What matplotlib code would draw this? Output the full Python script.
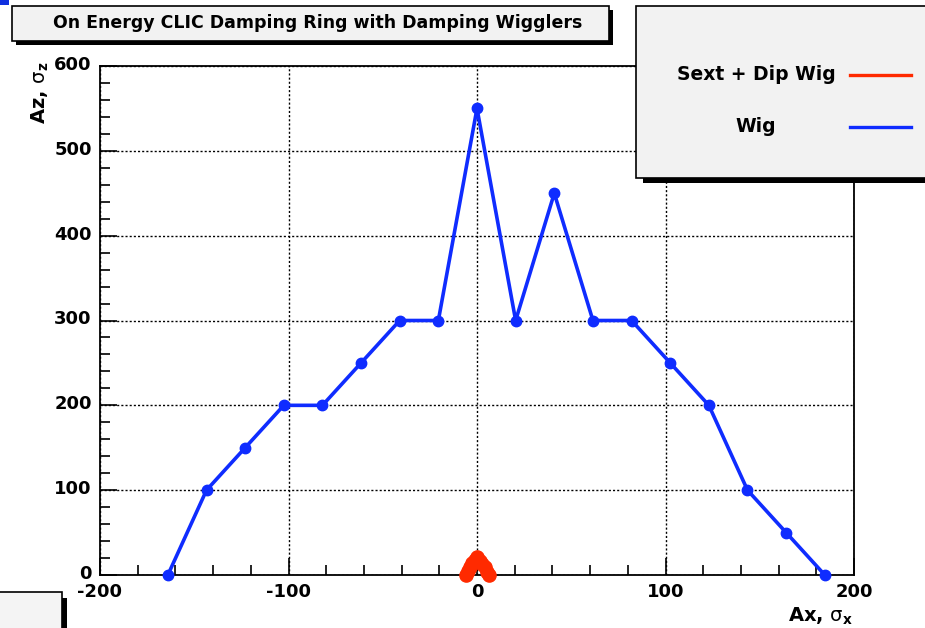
import matplotlib
matplotlib.use("Agg")
import matplotlib.pyplot as plt
from matplotlib.patches import Rectangle
from matplotlib.lines import Line2D
from matplotlib.ticker import MultipleLocator
from matplotlib.transforms import ScaledTranslation

# Dynamic aperture scan: amplitudes in units of beam sigma
wig_ax = [-164, -143.5, -123, -102.5, -82, -61.5, -41, -20.5, 0, 20.5, 41,
          61.5, 82, 102.5, 123, 143.5, 164, 184.5]
wig_az = [0, 100, 150, 200, 200, 250, 300, 300, 550, 300, 450,
          300, 300, 250, 200, 100, 50, 0]

sext_ax = [-5.8, -4.8, -3.8, -2.6, -1.3, 0, 1.4, 2.8, 4.0, 5.3, 6.5]
sext_az = [0, 5, 10, 14, 18, 21, 17, 13, 9, 4, 0]

title = "On Energy CLIC Damping Ring with Damping Wigglers"
series_labels = ["Sext + Dip Wig", "Wig"]
x_ticks = [-200, -100, 0, 100, 200]
y_ticks = [0, 100, 200, 300, 400, 500, 600]

W, H = 925, 628
RED = "#ff2a00"
BLUE = "#0f2cff"
PANEL = "#f2f2f2"

fig = plt.figure(figsize=(W / 100, H / 100), dpi=100)
fig.patch.set_facecolor("white")


def fx(x):
    return x / W


def fy(y):
    return 1 - y / H


def box(x0, y0, x1, y1, face, lw=1.2, z=5):
    r = Rectangle((fx(x0), fy(y1)), fx(x1) - fx(x0), fy(y0) - fy(y1),
                  transform=fig.transFigure, facecolor=face, edgecolor="black",
                  linewidth=lw, zorder=z)
    fig.add_artist(r)


def shadow(x0, y0, x1, y1, z=4):
    r = Rectangle((fx(x0), fy(y1)), fx(x1) - fx(x0), fy(y0) - fy(y1),
                  transform=fig.transFigure, facecolor="black",
                  edgecolor="none", zorder=z)
    fig.add_artist(r)


# Axes frame
L, R, T, B = 100, 854, 66, 575
ax = fig.add_axes([fx(L), fy(B), fx(R) - fx(L), fy(T) - fy(B)])
ax.set_xlim(-200, 200)
ax.set_ylim(0, 600)

ax.plot(wig_ax, wig_az, color=BLUE, lw=2.6, marker="o", ms=7.5,
        mec=BLUE, mfc=BLUE, zorder=3, clip_on=False)
ax.plot(sext_ax, sext_az, color=RED, lw=6.5, marker="o", ms=9.5,
        mec=RED, mfc=RED, zorder=4, clip_on=False,
        solid_joinstyle="round", solid_capstyle="round")

ax.set_xticks(x_ticks)
ax.set_yticks(y_ticks)
ax.xaxis.set_minor_locator(MultipleLocator(20))
ax.yaxis.set_minor_locator(MultipleLocator(20))
ax.tick_params(axis="both", which="both", direction="in", top=False,
               right=False, width=1.2, colors="black")
ax.tick_params(axis="both", which="major", length=12)
ax.tick_params(axis="both", which="minor", length=7)
ax.tick_params(axis="x", which="major", pad=6)
ax.tick_params(axis="y", which="major", pad=6)
ax.set_xticklabels([str(v) for v in x_ticks], fontsize=13, fontweight="bold",
                   family="DejaVu Sans")
ax.set_yticklabels([str(v) for v in y_ticks], fontsize=13, fontweight="bold",
                   family="DejaVu Sans")
# y labels sit slightly above their ticks
up = ScaledTranslation(0, 3 / 100, fig.dpi_scale_trans)
for lab in ax.get_yticklabels():
    lab.set_transform(lab.get_transform() + up)

ax.grid(True, which="major", color="black", linestyle=(0, (1.5, 1.5)),
        linewidth=1.0)
ax.set_axisbelow(True)
for s in ax.spines.values():
    s.set_linewidth(1.3)

# Axis titles
fig.text(fx(853), fy(622), r"Ax, $\mathrm{\sigma}_\mathbf{x}$", ha="right",
         va="baseline", fontsize=14, fontweight="bold", family="DejaVu Sans")
fig.text(fx(40), fy(62), r"Az, $\mathrm{\sigma}_\mathbf{z}$", ha="center",
         va="top", rotation=90, fontsize=14, fontweight="bold",
         family="DejaVu Sans")

# Title panel
shadow(16, 10, 613, 45)
box(12, 6, 609, 41, PANEL)
fig.text(fx(318), fy(23), title, ha="center", va="center", fontsize=12.5,
         fontweight="bold", family="DejaVu Sans", zorder=6)

# Legend panel
shadow(643, 12, 930, 183)
box(636, 6, 935, 178, PANEL)
fig.text(fx(756), fy(74), series_labels[0], ha="center", va="center",
         fontsize=13.5, fontweight="bold", family="DejaVu Sans", zorder=6)
fig.text(fx(756), fy(126), series_labels[1], ha="center", va="center",
         fontsize=13.5, fontweight="bold", family="DejaVu Sans", zorder=6)
for yy, col in [(75, RED), (127, BLUE)]:
    fig.add_artist(Line2D([fx(850), fx(911)], [fy(yy), fy(yy)],
                          transform=fig.transFigure, color=col, lw=2.4,
                          zorder=6))

# Partial panel in the lower-left corner
shadow(62, 598, 67, 640)
box(-5, 592, 62, 640, "#f4f4f4")

# Small marker in the top-left corner
fig.add_artist(Rectangle((0, fy(5)), fx(9), fy(0) - fy(5),
                         transform=fig.transFigure, facecolor="#1030e0",
                         edgecolor="none", zorder=7))

fig.savefig("out.png", dpi=100)
